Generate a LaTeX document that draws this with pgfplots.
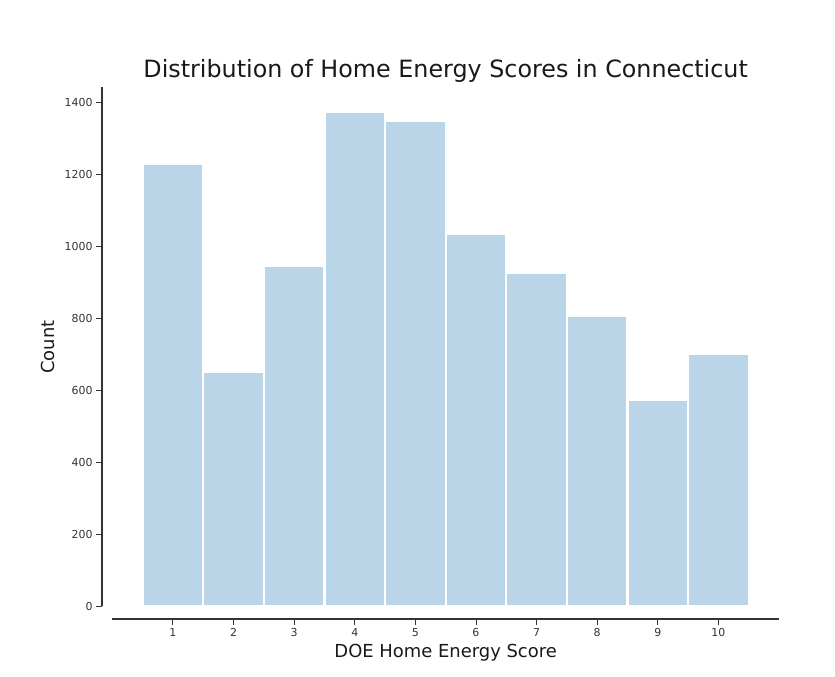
\documentclass[border=0pt]{standalone}
\usepackage{fontspec}
\setmainfont{DejaVu Sans}
\usepackage{pgfplots}
\pgfplotsset{compat=1.18}
\definecolor{barblue}{HTML}{BAD5E8}
\definecolor{spine}{HTML}{333333}
\begin{document}
\begin{tikzpicture}[x=1bp,y=1bp]
\path[use as bounding box] (-102,-58) rectangle (733,619);
\begin{axis}[
  at={(0,0)}, anchor=south west,
  scale only axis, width=677bp, height=532bp,
  xmin=-0.17, xmax=11, ymin=-36, ymax=1442,
  axis lines=left, axis line style={draw=none,-},
  clip=false,
  ybar, bar width=1,
  xtick={1,2,3,4,5,6,7,8,9,10}, ytick={0,200,400,600,800,1000,1200,1400},
  tick align=outside, major tick length=6bp,
  tick style={spine, line width=0.9bp},
  tick label style={font=\fontsize{11}{13}\selectfont, text=spine},
  /pgf/number format/assume math mode=true,
  /pgf/number format/1000 sep={},
  scaled y ticks=false,
  xlabel={DOE Home Energy Score},
  ylabel={Count},
  label style={font=\fontsize{18}{20}\selectfont, text=black!90},
  xlabel style={at={(axis cs:5.5,-36)}, anchor=base, yshift=-39bp},
  ylabel style={at={(rel axis cs:0,0.511)}, anchor=base, yshift=47bp},
  every axis title shift=0pt,
  title={Distribution of Home Energy Scores in Connecticut},
  title style={font=\fontsize{23.9}{26}\selectfont, text=black!90, at={(axis cs:5.5,1442)}, anchor=base, yshift=9bp},
]
\addplot[fill=barblue, draw=white, line width=2.3bp] coordinates {
  (1,1228) (2,650) (3,944) (4,1372) (5,1347) (6,1033) (7,925) (8,806) (9,572) (10,700)
};
\draw[spine, line width=1.1bp] (axis cs:-0.17,0) -- (axis cs:-0.17,1442);
\draw[spine, line width=1.1bp] (axis cs:0,-36) -- (axis cs:11,-36);
\end{axis}
\end{tikzpicture}
\end{document}
